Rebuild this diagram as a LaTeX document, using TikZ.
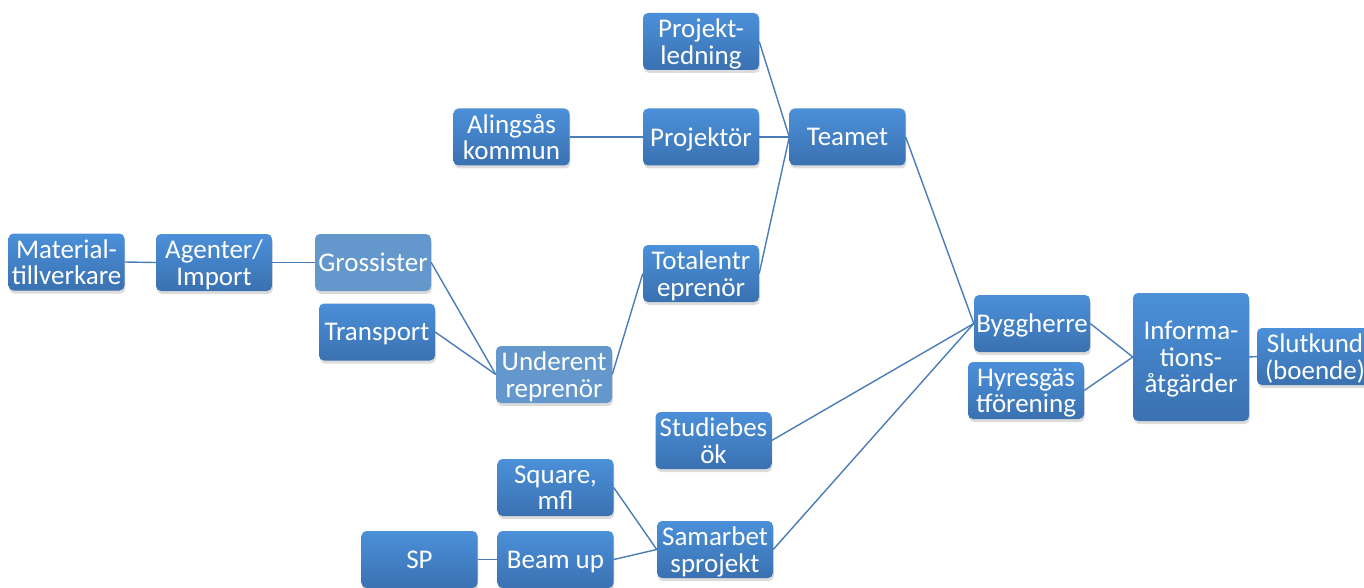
\documentclass[tikz,border=0pt]{standalone}
\usepackage{fontspec}
\setmainfont{Carlito}
\usetikzlibrary{shadows}
\definecolor{boxtop}{HTML}{4B90D9}
\definecolor{boxbot}{HTML}{3A71B1}
\definecolor{boxflat}{HTML}{6497CB}
\definecolor{linkcol}{HTML}{4A7CB8}
\tikzset{
  unit/.style={rounded corners=5pt, minimum width=116pt, minimum height=57pt,
    inner sep=0pt, align=center, text=white, text depth=0pt,
    font=\fontsize{27}{26.5}\selectfont,
    drop shadow={opacity=0.28, shadow xshift=0.8pt, shadow yshift=-3pt}},
  gradbox/.style={unit, top color=boxtop, bottom color=boxbot},
  flatbox/.style={unit, fill=boxflat},
  link/.style={draw=linkcol, line width=1.4pt}
}
\begin{document}
\begin{tikzpicture}[x=1pt, y=-1pt]
\useasboundingbox (0,0) rectangle (1364,588);
\clip (0,0) rectangle (1364,588);
% supply chain
\node[gradbox] (mat) at (66.5,262) {Material-\\tillverkare};
\node[gradbox] (age) at (214,262.5) {Agenter/\\Import};
\node[flatbox] (gro) at (373,262.5) {Grossister};
\node[gradbox] (tra) at (377,332) {Transport};
\node[flatbox] (und) at (554,374.5) {Underent\\reprenör};
% project team
\node[gradbox] (pl)  at (701,41.5) {Projekt-\\ledning};
\node[gradbox] (ali) at (511.5,137) {Alingsås\\kommun};
\node[gradbox] (pro) at (701,137) {Projektör};
\node[gradbox] (tea) at (847.5,137) {Teamet};
\node[gradbox] (tot) at (701,273.5) {Totalentr\\eprenör};
% studies and cooperation
\node[gradbox] (stu) at (713.5,440.5) {Studiebes\\ök};
\node[gradbox] (squ) at (555.5,487.5) {Square,\\mfl};
\node[gradbox] (sp)  at (419.5,559.5) {SP};
\node[gradbox] (bea) at (555.5,559.5) {Beam up};
\node[gradbox] (sam) at (715,549.5) {Samarbet\\sprojekt};
% client side
\node[gradbox] (byg) at (1032,323.5) {Byggherre};
\node[gradbox] (hyr) at (1026,390.5) {Hyresgäs\\tförening};
\node[gradbox, minimum height=128pt] (inf) at (1191,357) {Informa-\\tions-\\åtgärder};
\node[gradbox] (slu) at (1315,356.5) {Slutkund\\(boende)};
% links
\draw[link] (mat.east) -- (age.west);
\draw[link] (age.east) -- (gro.west);
\draw[link] (gro.east) -- (und.west);
\draw[link] (tra.east) -- (und.west);
\draw[link] (und.east) -- (tot.west);
\draw[link] (ali.east) -- (pro.west);
\draw[link] (pl.east) -- (tea.west);
\draw[link] (pro.east) -- (tea.west);
\draw[link] (tot.east) -- (tea.west);
\draw[link] (tea.east) -- (byg.west);
\draw[link] (stu.east) -- (byg.west);
\draw[link] (sam.east) -- (byg.west);
\draw[link] (squ.east) -- (sam.west);
\draw[link] (sp.east) -- (bea.west);
\draw[link] (bea.east) -- (sam.west);
\draw[link] (byg.east) -- (inf.west);
\draw[link] (hyr.east) -- (inf.west);
\draw[link] (inf.east) -- (slu.west);
\end{tikzpicture}
\end{document}
